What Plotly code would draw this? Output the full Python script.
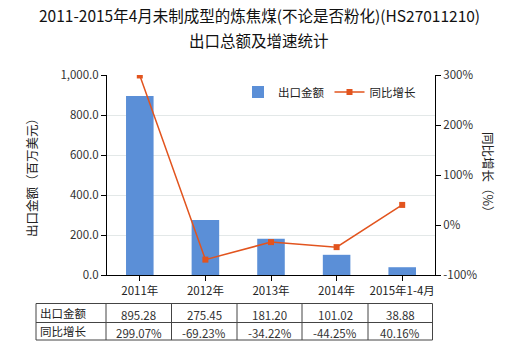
import plotly.graph_objects as go

categories = ["2011年", "2012年", "2013年", "2014年", "2015年1-4月"]
export_values = [895.28, 275.45, 181.20, 101.02, 38.88]
growth_pct = [299.07, -69.23, -34.22, -44.25, 40.16]
value_labels = ["895.28", "275.45", "181.20", "101.02", "38.88"]
growth_labels = ["299.07%", "-69.23%", "-34.22%", "-44.25%", "40.16%"]
left_ticks = [0, 200, 400, 600, 800, 1000]
left_tick_text = ["0.0", "200.0", "400.0", "600.0", "800.0", "1,000.0"]
right_ticks = [-100, 0, 100, 200, 300]
right_tick_text = ["-100%", "0%", "100%", "200%", "300%"]
title_lines = ["2011-2015年4月未制成型的炼焦煤(不论是否粉化)(HS27011210)", "出口总额及增速统计"]

FONT = "Noto Sans CJK SC"
W, H = 520, 350
L, R, T, B = 107, 435, 75, 275

def px(x):
    return (x - L) / (R - L)

def py(y):
    return (B - y) / (B - T)

fig = go.Figure()
fig.add_trace(go.Bar(x=categories, y=export_values, name="出口金额",
                     marker=dict(color="#5b8fd7", line=dict(width=0)),
                     width=0.42, yaxis="y"))
fig.add_trace(go.Scatter(x=categories, y=growth_pct, name="同比增长", yaxis="y2",
                         mode="lines+markers",
                         line=dict(color="#e2541e", width=1.5),
                         marker=dict(symbol="square", size=6, color="#e2541e")))

shapes = []
ann = []
# title lines
for line, yy in zip(title_lines, [15.5, 39.5]):
    ann.append(dict(text=line, xref="paper", yref="paper", x=px(259), y=py(yy),
                    xanchor="center", yanchor="middle", showarrow=False,
                    font=dict(family=FONT, size=15.5, color="#111111")))
# table lines
xs = [36, 106, 171.5, 237, 302, 368, 432.5]
ys = [303.5, 322.5, 340]
for y in ys:
    shapes.append(dict(type="line", xref="paper", yref="paper",
                       x0=px(xs[0]), x1=px(xs[-1]), y0=py(y), y1=py(y),
                       line=dict(color="#444444", width=1)))
for x in xs:
    shapes.append(dict(type="line", xref="paper", yref="paper",
                       x0=px(x), x1=px(x), y0=py(ys[0]), y1=py(ys[-1]),
                       line=dict(color="#444444", width=1)))
row_y = [313.5, 331.5]
row_names = ["出口金额", "同比增长"]
for r, name in enumerate(row_names):
    ann.append(dict(text=name, xref="paper", yref="paper", x=px(38), y=py(row_y[r] - 1),
                    xanchor="left", yanchor="middle", showarrow=False,
                    font=dict(family=FONT, size=11.5, color="#222222")))
for i in range(len(categories)):
    cx = px((xs[i + 1] + xs[i + 2]) / 2)
    for r, lab in enumerate([value_labels[i], growth_labels[i]]):
        ann.append(dict(text=lab, xref="paper", yref="paper", x=cx, y=py(row_y[r] + 1),
                        xanchor="center", yanchor="middle", showarrow=False,
                        font=dict(family=FONT, size=11.5, color="#333333")))
# axis titles
ann.append(dict(text="出口金额（百万美元）", xref="paper", yref="paper", x=px(31), y=py(175),
                textangle=-90, showarrow=False, xanchor="center", yanchor="middle",
                font=dict(family=FONT, size=12.5, color="#222222")))
ann.append(dict(text="同比增长（%）", xref="paper", yref="paper", x=px(489), y=py(175),
                textangle=90, showarrow=False, xanchor="center", yanchor="middle",
                font=dict(family=FONT, size=12.5, color="#222222")))

fig.update_layout(
    width=W, height=H,
    margin=dict(l=L, r=W - R, t=T, b=H - B),
    paper_bgcolor="white", plot_bgcolor="white",
    font=dict(family=FONT, size=11, color="#333333"),
    showlegend=True,
    legend=dict(orientation="h", x=px(238), y=py(92), xanchor="left", yanchor="middle",
                font=dict(family=FONT, size=11.5, color="#222222"),
                bgcolor="rgba(0,0,0,0)", itemwidth=30, tracegroupgap=0),
    xaxis=dict(showline=True, linecolor="#000000", linewidth=1, ticks="outside",
               ticklen=5, tickcolor="#000000", showgrid=False,
               tickfont=dict(family=FONT, size=11.5, color="#222222")),
    yaxis=dict(range=[0, 1000], tickvals=left_ticks, ticktext=left_tick_text,
               showline=True, linecolor="#000000", linewidth=1, ticks="outside",
               ticklen=5, tickcolor="#000000", showgrid=True, gridcolor="#e3e8e8",
               zeroline=False, tickfont=dict(family=FONT, size=11.5, color="#333333")),
    yaxis2=dict(range=[-100, 300], tickvals=right_ticks, ticktext=right_tick_text,
                overlaying="y", side="right", showline=True, linecolor="#000000",
                linewidth=1, ticks="outside", ticklen=5, tickcolor="#000000",
                showgrid=False, zeroline=False,
                tickfont=dict(family=FONT, size=11.5, color="#333333")),
    shapes=shapes, annotations=ann,
)

fig.write_html("out.html")
